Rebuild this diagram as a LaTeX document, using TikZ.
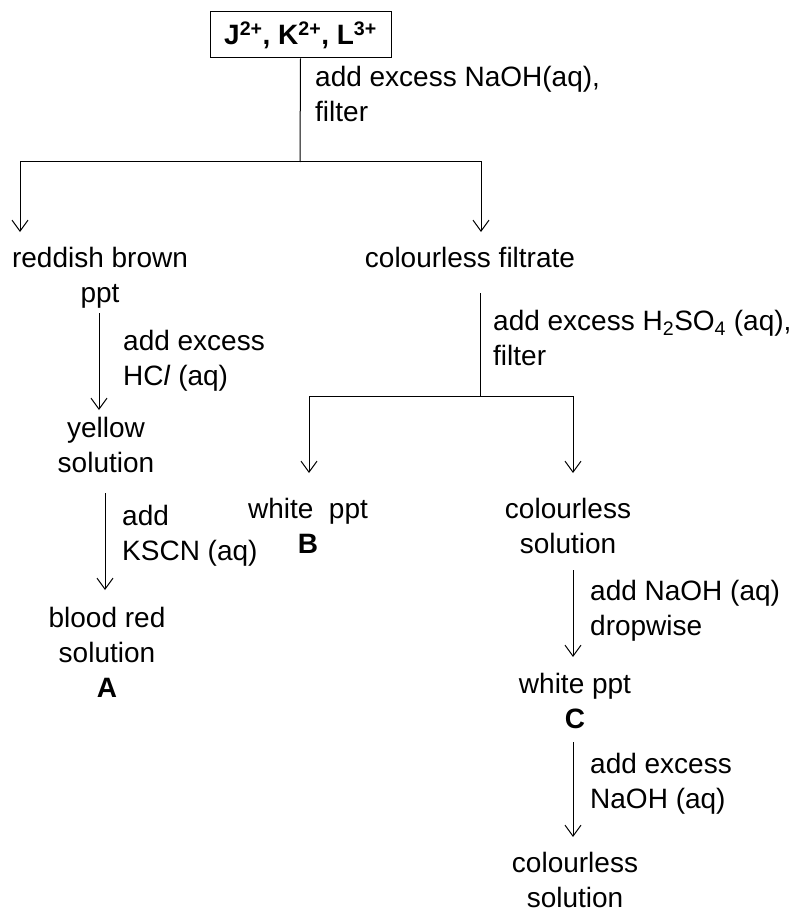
\documentclass[tikz,border=0pt]{standalone}
\usepackage{fontspec}
\setmainfont{Liberation Sans}
\usetikzlibrary{arrows.meta}
\begin{document}
\begin{tikzpicture}[x=1pt,y=-1pt,
  txt/.style={inner sep=0pt,font=\fontsize{28}{35}\selectfont},
  lbl/.style={txt,align=left,anchor=north west},
  item/.style={txt,align=center,anchor=north},
  ln/.style={line width=1pt},
  arr/.style={ln,-{Straight Barb[length=11pt,width=16pt,line width=1pt]}}]
\useasboundingbox (0,0) rectangle (796,912);
% top box
\node[draw,ln,txt,minimum width=181pt,minimum height=46pt] (box) at (300.5,35)
  {\textbf{J\textsuperscript{2+}, K\textsuperscript{2+}, L\textsuperscript{3+}}};
\coordinate (j1) at (300,162);
\coordinate (tipL) at (20,232);
\coordinate (tipR) at (481,232);
\node[lbl] (l1) at (315,66) {add excess NaOH(aq),\\filter};
\draw[ln] (box.south) -- (j1);
\draw[arr] (j1) -| (tipL);
\draw[arr] (j1) -| (tipR);
% left column
\node[item] (rb) at (100,247) {reddish brown\\ppt};
\node[lbl] (l2) at (123,330) {add excess\\HC\textit{l} (aq)};
\node[item] (yel) at (106,417) {yellow\\solution};
\draw[arr] (99,313) -- (99,410);
\node[lbl] (l3) at (122,505) {add\\KSCN (aq)};
\node[item] (bl) at (107,607) {blood red\\solution\\\textbf{A}};
\draw[arr] (105,493) -- (105,590);
% right column
\node[item] (cf) at (470,247) {colourless filtrate};
\coordinate (j2) at (480,396);
\coordinate (tipB) at (309,473);
\coordinate (tipC) at (573,473);
\draw[ln] (480,293) -- (j2);
\draw[arr] (j2) -| (tipB);
\draw[arr] (j2) -| (tipC);
\node[lbl] (l4) at (493,310) {add excess H\textsubscript{2}SO\textsubscript{4} (aq),\\filter};
\node[item] (wpb) at (308,498) {white~~ppt\\\textbf{B}};
\node[item] (cs) at (568,498) {colourless\\solution};
\draw[arr] (573,570) -- (573,657);
\node[lbl] (l5) at (590,580) {add NaOH (aq)\\dropwise};
\node[item] (wpc) at (575,673) {white ppt\\\textbf{C}};
\draw[arr] (573,742) -- (573,837);
\node[lbl] (l6) at (590,753) {add excess\\NaOH (aq)};
\node[item] (cs2) at (575,852) {colourless\\solution};
\end{tikzpicture}
\end{document}
